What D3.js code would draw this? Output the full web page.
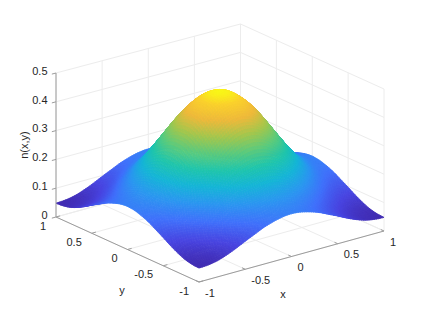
<!DOCTYPE html>
<html><head><meta charset="utf-8">
<script src="https://cdn.jsdelivr.net/npm/d3@7"></script>
<style>html,body{margin:0;padding:0;background:#fff}svg{display:block}text{font-family:"Liberation Sans",Arial,sans-serif;font-size:11px;fill:#262626}</style>
</head><body><div id="c"></div>
<script>
const xTicks=[-1,-0.5,0,0.5,1];
const yTicks=[-1,-0.5,0,0.5,1];
const zTicks=[0,0.1,0.2,0.3,0.4,0.5];
const xLabels=["-1","-0.5","0","0.5","1"];
const yLabels=["-1","-0.5","0","0.5","1"];
const zLabels=["0","0.1","0.2","0.3","0.4","0.5"];
// |x|,|y| = 0, 0.1 ... 1 : one quadrant of n(x,y) (the surface is symmetric)
const quadrantRows=[
[.462,.455,.431,.397,.351,.301,.253,.210,.177,.156,.149],
[.455,.448,.424,.390,.345,.296,.248,.206,.174,.153,.146],
[.431,.424,.401,.369,.326,.280,.235,.195,.164,.145,.138],
[.397,.390,.369,.339,.299,.257,.216,.179,.151,.133,.127],
[.351,.345,.326,.299,.265,.227,.191,.159,.134,.118,.112],
[.301,.296,.280,.257,.227,.195,.164,.136,.115,.101,.097],
[.253,.248,.235,.216,.191,.164,.138,.114,.096,.085,.081],
[.210,.206,.195,.179,.159,.136,.114,.095,.080,.070,.067],
[.177,.174,.164,.151,.134,.115,.096,.080,.067,.059,.056],
[.156,.153,.145,.133,.118,.101,.085,.070,.059,.053,.050],
[.149,.146,.138,.127,.112,.097,.081,.067,.056,.050,.048]];
const colorStops=[.04,.085,.13,.175,.22,.265,.31,.355,.40,.44,.465];
const colorValues=["#3e26a8","#4743e0","#3f70fb","#2a96f0","#14b5d6","#1fc5ab","#5ccb7c","#a5c74c","#f0b93a","#fbd12c","#f9fb15"];

const W=423,H=317;
const corners={front:[199,282],right:[384,231],left:[56,217],back:[240.5,166]};
const heightAt={front:145,right:142,left:144,back:142};
const svg=d3.select("#c").append("svg").attr("width",W).attr("height",H);
const xs=d3.scaleLinear().domain([-1,1]).range([0,1]);
const ys=d3.scaleLinear().domain([-1,1]).range([0,1]);
const zs=d3.scaleLinear().domain([0,0.5]).range([0,1]);
const col=d3.scaleLinear().domain(colorStops).range(colorValues).clamp(true);
function P(x,y,z){
  const u=xs(x),v=ys(y),w=zs(z);
  const mix=(a,b,c,d)=>(1-u)*(1-v)*a+u*(1-v)*b+(1-u)*v*c+u*v*d;
  const px=mix(corners.front[0],corners.right[0],corners.left[0],corners.back[0]);
  const py=mix(corners.front[1],corners.right[1],corners.left[1],corners.back[1]);
  const h=mix(heightAt.front,heightAt.right,heightAt.left,heightAt.back);
  return [px,py-h*w];
}
const line=(a,b,c,w)=>svg.append("line").attr("x1",a[0]).attr("y1",a[1]).attr("x2",b[0]).attr("y2",b[1]).attr("stroke",c).attr("stroke-width",w||1);
const gridC="#ececec";
// back walls and floor
zTicks.forEach(z=>{line(P(-1,1,z),P(1,1,z),gridC);line(P(1,1,z),P(1,-1,z),gridC);});
xTicks.forEach(x=>{line(P(x,1,0),P(x,1,.5),gridC);line(P(x,-1,0),P(x,1,0),gridC);});
yTicks.forEach(y=>{line(P(1,y,0),P(1,y,.5),gridC);line(P(-1,y,0),P(1,y,0),gridC);});

// surface
const cell=i=>Math.abs(i-10);
const Z=(i,j)=>quadrantRows[cell(Math.max(0,Math.min(20,i)))][cell(Math.max(0,Math.min(20,j)))];
const cr=(a,b,c,d,t)=>0.5*(2*b+(c-a)*t+(2*a-5*b+4*c-d)*t*t+(3*b-a-3*c+d)*t*t*t);
function smooth(gi,gj){
  const i=Math.min(19,Math.floor(gi)),j=Math.min(19,Math.floor(gj)),s=gi-i,t=gj-j;
  const r=[-1,0,1,2].map(di=>cr(Z(i+di,j-1),Z(i+di,j),Z(i+di,j+1),Z(i+di,j+2),t));
  return cr(r[0],r[1],r[2],r[3],s);
}
const sub=5,N=20*sub;
const toX=d3.scaleLinear().domain([0,N]).range([-1,1]);
const cells=[];
for(let a=0;a<N;a++)for(let b=0;b<N;b++)cells.push([a,b]);
cells.sort((p,q)=>(q[0]+q[1])-(p[0]+p[1]));
const pt=(a,b)=>P(toX(a),toX(b),smooth(a/sub,b/sub));
svg.append("g").selectAll("path").data(cells).join("path")
 .attr("d",([a,b])=>"M"+[pt(a,b),pt(a+1,b),pt(a+1,b+1),pt(a,b+1)].map(p=>p[0].toFixed(2)+","+p[1].toFixed(2)).join("L")+"Z")
 .each(function([a,b]){const c=col(smooth((a+.5)/sub,(b+.5)/sub));d3.select(this).attr("fill",c).attr("stroke",c).attr("stroke-width",.8);});

// axes
const axC="#9c9c9c",T=0.045;
line(P(-1,1,0),P(-1,1,.5),axC);
line(P(-1,1,0),P(-1,-1,0),axC);
line(P(-1,-1,0),P(1,-1,0),axC);
zTicks.forEach(z=>line(P(-1,1,z),P(-1-T,1,z),axC));
yTicks.forEach(y=>line(P(-1,y,0),P(-1+T,y,0),axC));
xTicks.forEach(x=>line(P(x,-1,0),P(x,-1+T,0),axC));
const txt=(s,x,y,a)=>svg.append("text").attr("x",x).attr("y",y).attr("text-anchor",a||"middle").text(s);
zTicks.forEach((z,i)=>{const p=P(-1,1,z);txt(zLabels[i],p[0]-8.5,p[1]+1.7,"end");});
xTicks.forEach((x,i)=>{const p=P(x,-1,0);txt(xLabels[i],p[0]+6,p[1]+14.5,"start");});
yTicks.forEach((y,i)=>{const p=P(-1,y,0);txt(yLabels[i],p[0]-10,p[1]+12.7,"end");});
txt("x",283,298);txt("y",122,294);
svg.append("text").attr("transform","translate(28,145) rotate(-90)").attr("text-anchor","middle").text("n(x,y)");
</script></body></html>
